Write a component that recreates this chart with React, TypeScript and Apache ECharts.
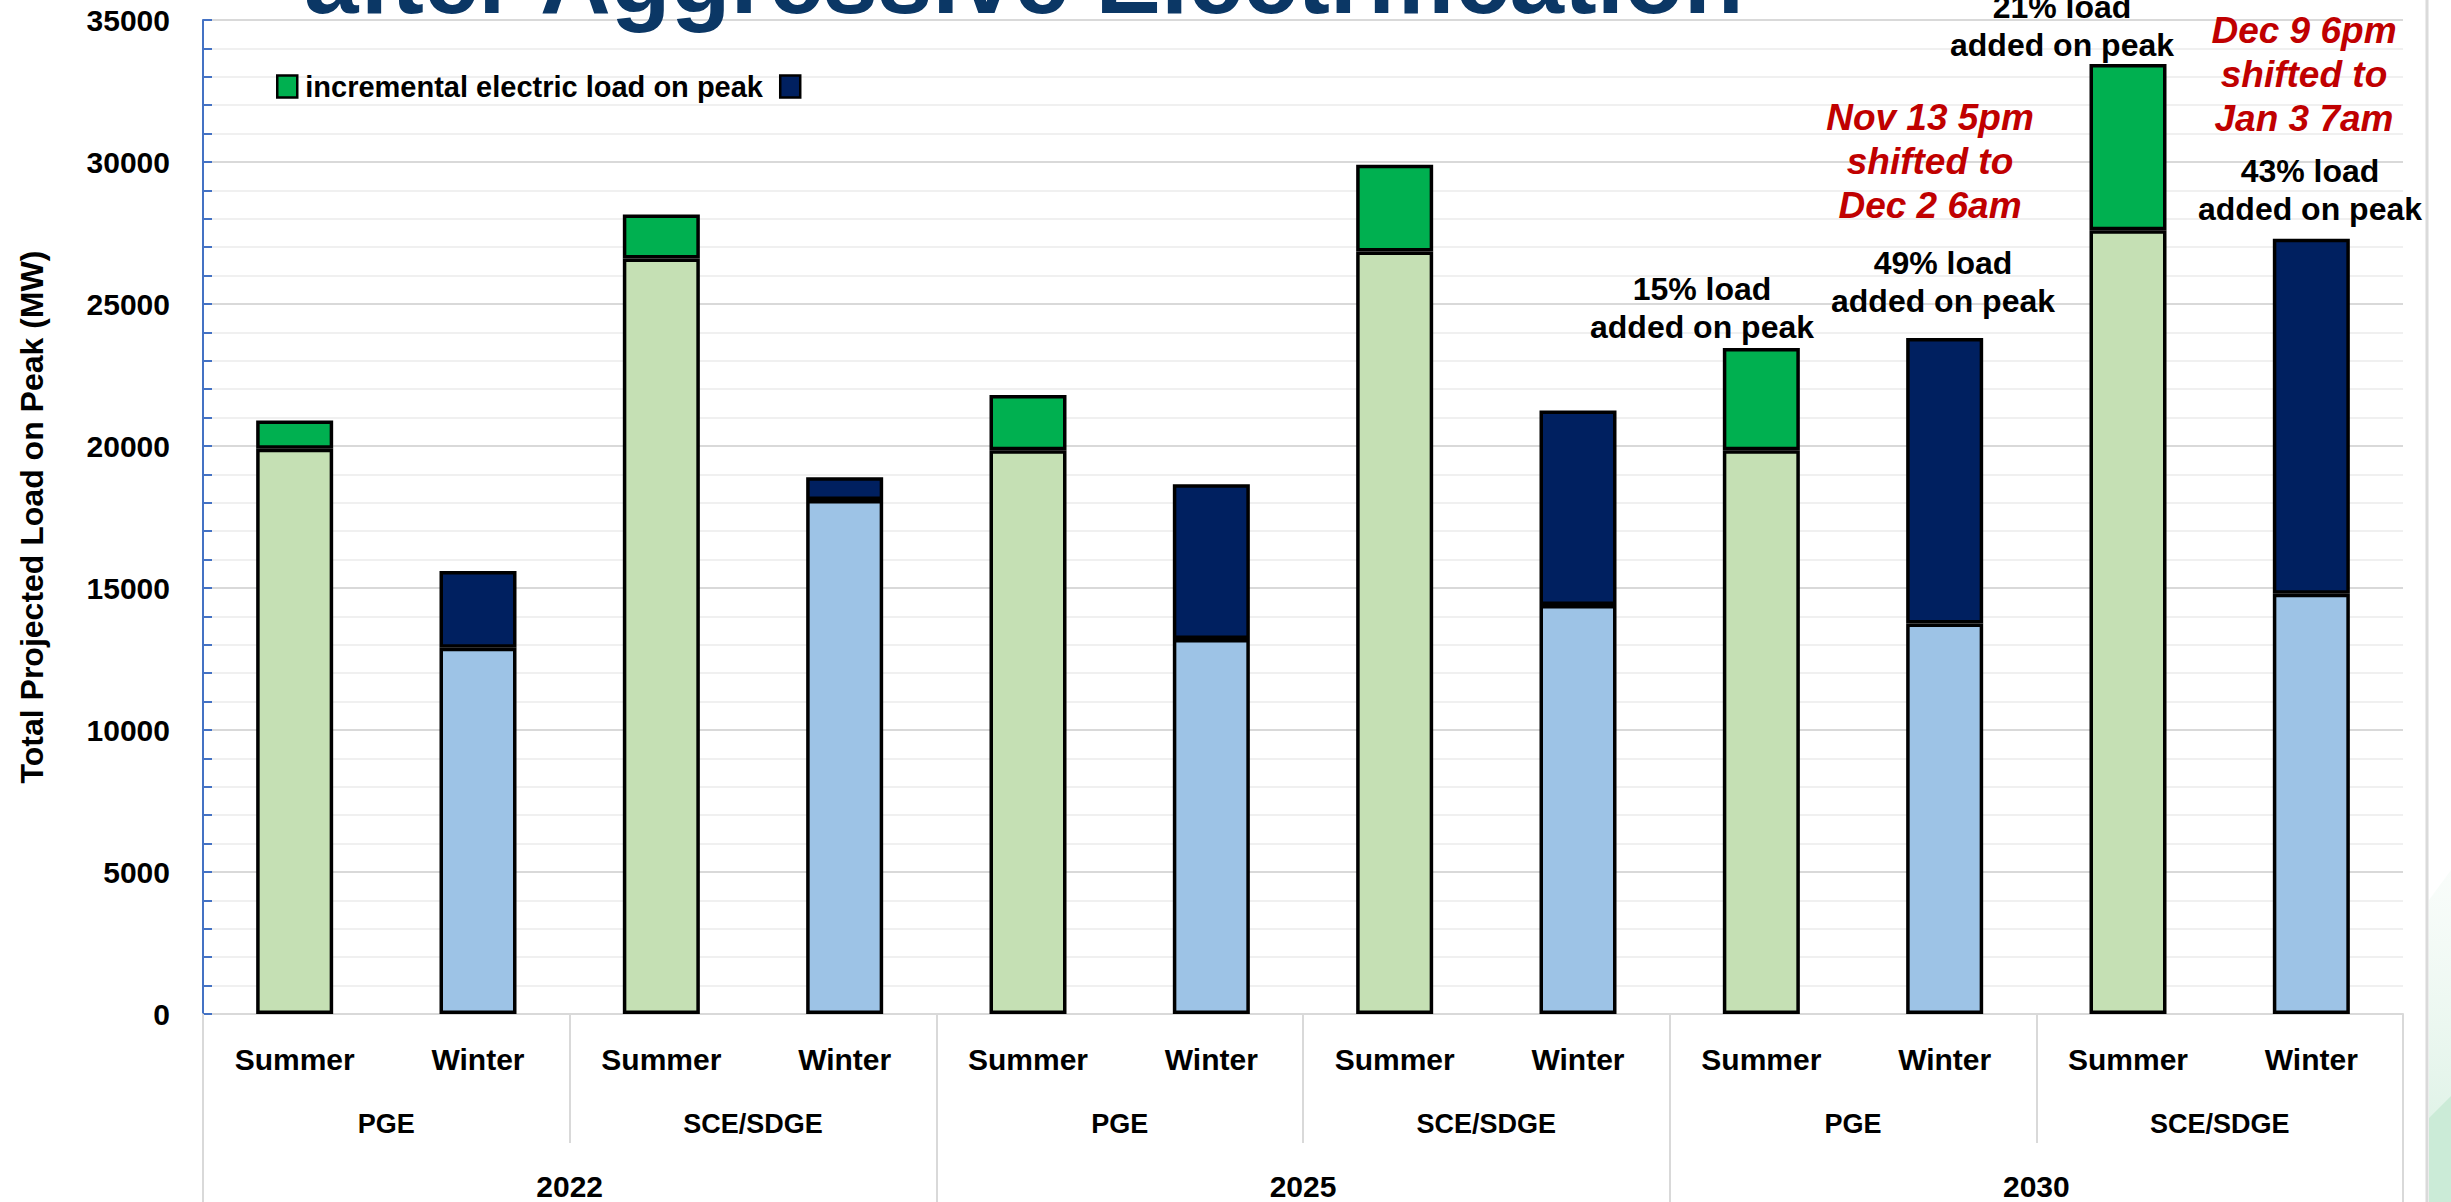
import React, { useEffect, useRef } from "react";
import * as echarts from "echarts";

// Category levels of the x axis (innermost first)
const seasons = ["Summer", "Winter", "Summer", "Winter", "Summer", "Winter", "Summer", "Winter", "Summer", "Winter", "Summer", "Winter"];
const utilities = ["PGE", "SCE/SDGE", "PGE", "SCE/SDGE", "PGE", "SCE/SDGE"];
const years = ["2022", "2025", "2030"];

// Peak load in MW, one value per bar (same order as `seasons`)
const baseLoad = [19900, 12900, 26600, 18100, 19850, 13200, 26850, 14400, 19850, 13750, 27600, 14800];
const addedLoad = [1000, 2700, 1550, 800, 1950, 5450, 3050, 6850, 3600, 10050, 5850, 12500];

// Value axis range
const yMin = 0;
const yMax = 35000;
const yStep = 5000;

// Legend entries for the incremental series
const legendNames = ["incremental electric load on peak", " "];

// Call-out texts
const loadNotes = ["15% load\nadded on peak", "49% load\nadded on peak", "21% load\nadded on peak", "43% load\nadded on peak"];
const shiftNotes = ["Nov 13 5pm\nshifted to\nDec 2 6am", "Dec 9 6pm\nshifted to\nJan 3 7am"];

const titleText = "after Aggressive Electrification";
const yAxisTitle = "Total Projected Load on Peak (MW)";

const FONT = '"Liberation Sans", Arial, Helvetica, sans-serif';

const bySeason = (values: number[], season: string) =>
  values.map((v, i) => (seasons[i] === season ? v : "-"));

export default function App() {
  const ref = useRef<HTMLDivElement>(null);

  useEffect(() => {
    if (!ref.current) return;
    const chart = echarts.init(ref.current, undefined, { renderer: "svg" });

    // ECharts draws bar borders inside the bar, so the width includes the outline
    const border = { borderColor: "#000000", borderWidth: 3.5 };
    const barCommon = {
      type: "bar" as const,
      stack: "load",
      barWidth: 77,
      xAxisIndex: 0,
      yAxisIndex: 0,
    };

    const boldBlack = { color: "#000000", fontWeight: "bold" as const, fontFamily: FONT };

    const blackNote = (text: string, x: number, y: number) => ({
      type: "text",
      x,
      y,
      z: 50,
      style: {
        text,
        fill: "#000000",
        fontSize: 32,
        fontWeight: "bold",
        fontFamily: FONT,
        lineHeight: 38,
        align: "center",
        verticalAlign: "middle",
      },
    });
    const redNote = (text: string, x: number, y: number) => ({
      type: "text",
      x,
      y,
      z: 50,
      style: {
        text,
        fill: "#C00000",
        fontSize: 37,
        fontWeight: "bold",
        fontStyle: "italic",
        fontFamily: FONT,
        lineHeight: 44,
        align: "center",
        verticalAlign: "middle",
      },
    });

    chart.setOption({
      animation: false,
      backgroundColor: "#ffffff",
      grid: { left: 203, right: 48, top: 20, bottom: 188, containLabel: false },
      legend: {
        left: 271,
        top: 67,
        icon: "rect",
        itemWidth: 20,
        itemHeight: 22,
        itemGap: 16,
        selectedMode: false,
        data: legendNames,
        itemStyle: { borderColor: "#000000", borderWidth: 2.5 },
        textStyle: { ...boldBlack, fontSize: 29, padding: [0, 0, 0, 3] },
      },
      xAxis: [
        {
          type: "category",
          data: seasons,
          position: "bottom",
          axisLine: { show: true, lineStyle: { color: "#D9D9D9", width: 2 } },
          axisTick: { show: false },
          axisLabel: { interval: 0, margin: 30, fontSize: 30, lineHeight: 30, ...boldBlack },
          splitLine: { show: false },
        },
        {
          type: "category",
          data: utilities,
          position: "bottom",
          axisLine: { show: false },
          axisTick: { show: true, interval: 0, length: 129, lineStyle: { color: "#D9D9D9", width: 2 } },
          axisLabel: { interval: 0, margin: 96, fontSize: 27, lineHeight: 27, ...boldBlack },
          splitLine: { show: false },
        },
        {
          type: "category",
          data: years,
          position: "bottom",
          axisLine: { show: false },
          axisTick: { show: true, interval: 0, length: 200, lineStyle: { color: "#D9D9D9", width: 2 } },
          axisLabel: { interval: 0, margin: 157, fontSize: 30, lineHeight: 30, ...boldBlack },
          splitLine: { show: false },
        },
      ],
      yAxis: {
        type: "value",
        min: yMin,
        max: yMax,
        interval: yStep,
        name: yAxisTitle,
        nameLocation: "middle",
        nameGap: 155,
        nameTextStyle: { ...boldBlack, fontSize: 32 },
        axisLine: { show: true, lineStyle: { color: "#4472C4", width: 2 } },
        axisTick: { show: true, inside: true, length: 9, lineStyle: { color: "#4472C4", width: 2 } },
        minorTick: { show: true, splitNumber: 5, length: 9, lineStyle: { color: "#4472C4", width: 2 } },
        splitLine: { show: true, lineStyle: { color: "#D9D9D9", width: 2 } },
        minorSplitLine: { show: true, lineStyle: { color: "#F0F0F0", width: 2 } },
        axisLabel: { margin: 33, fontSize: 30, ...boldBlack, formatter: (v: number) => String(v) },
      },
      series: [
        {
          ...barCommon,
          name: "Summer base",
          data: bySeason(baseLoad, "Summer"),
          itemStyle: { color: "#C5E0B4", ...border },
        },
        {
          ...barCommon,
          name: "Winter base",
          data: bySeason(baseLoad, "Winter"),
          itemStyle: { color: "#9DC3E6", ...border },
        },
        {
          ...barCommon,
          name: legendNames[0],
          data: bySeason(addedLoad, "Summer"),
          itemStyle: { color: "#00B050", ...border },
        },
        {
          ...barCommon,
          name: legendNames[1],
          data: bySeason(addedLoad, "Winter"),
          itemStyle: { color: "#002060", ...border },
        },
      ],
      graphic: [
        {
          type: "text",
          x: 304,
          y: -21,
          z: 40,
          style: {
            text: titleText,
            fill: "#0B3765",
            fontSize: 98,
            fontWeight: "bold",
            fontFamily: FONT,
            align: "left",
            verticalAlign: "middle",
          },
        },
        blackNote(loadNotes[0], 1702, 308),
        blackNote(loadNotes[1], 1943, 282),
        blackNote(loadNotes[2], 2062, 26),
        blackNote(loadNotes[3], 2310, 190),
        redNote(shiftNotes[0], 1930, 161),
        redNote(shiftNotes[1], 2304, 74),
        {
          type: "line",
          z: 1,
          shape: { x1: 2427, y1: 0, x2: 2427, y2: 1202 },
          style: { stroke: "#DADADA", lineWidth: 3 },
        },
        {
          type: "polygon",
          z: 1,
          shape: { points: [[2429, 900], [2451, 870], [2451, 1202], [2429, 1202]] },
          style: {
            fill: new echarts.graphic.LinearGradient(0, 0, 0, 1, [
              { offset: 0, color: "rgba(226,243,233,0.2)" },
              { offset: 1, color: "#D6EFE0" },
            ]),
          },
        },
        {
          type: "polygon",
          z: 1,
          shape: { points: [[2429, 1118], [2451, 1096], [2451, 1202], [2429, 1202]] },
          style: { fill: "#CBEBD7" },
        },
      ],
    });

    return () => chart.dispose();
  }, []);

  return (
    <div
      ref={ref}
      style={{ position: "fixed", left: 0, top: 0, width: 2451, height: 1202, background: "#ffffff" }}
    />
  );
}
